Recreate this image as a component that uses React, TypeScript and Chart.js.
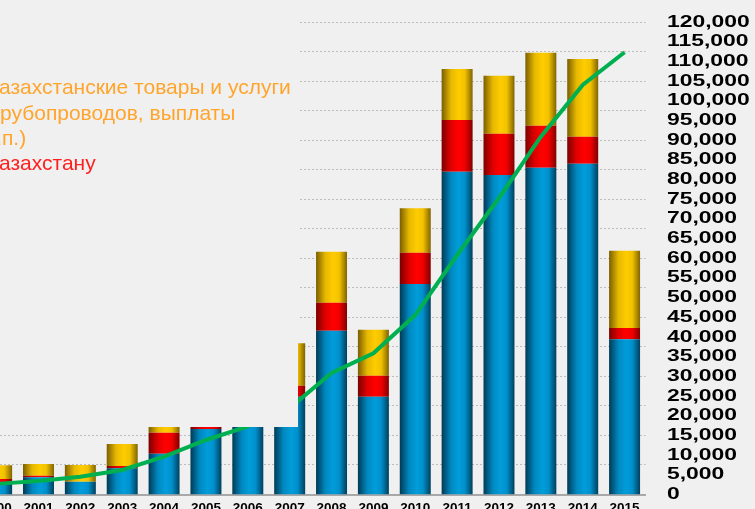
import { useEffect, useRef } from "react";
import { Chart, registerables } from "chart.js";

Chart.register(...registerables);

// ---- data ----
const years = ["2000", "2001", "2002", "2003", "2004", "2005", "2006", "2007", "2008", "2009", "2010", "2011", "2012", "2013", "2014", "2015"];
const blueSeries = [2850, 4370, 3250, 6660, 10370, 16650, 21000, 24860, 41630, 24860, 53500, 82030, 81200, 83050, 84070, 39440];
const redSeries = [1090, 410, 0, 580, 5330, 2000, 0, 2790, 7110, 5340, 7950, 13140, 10500, 10670, 6860, 2870];
const goldSeries = [3480, 2970, 4250, 5590, 2800, 500, 0, 10780, 12960, 11680, 11280, 12960, 14730, 18550, 19740, 19650];
const lineSeries = [2700, 3430, 4520, 6230, 9600, 13850, 17300, 22000, 30880, 35880, 45600, 60860, 75350, 90930, 104070, 112400];
const legendPrefixes = ["К", "т", "и т.", "К"];
const legendTexts = ["азахстанские товары и услуги", "рубопроводов, выплаты", "п.)", "азахстану"];

// ---- layout ----
const OFF = 40;
const W = 755 + OFF;
const H = 530;
const BG = "#F0F0F0";
const FONT = '"Liberation Sans", Arial, Helvetica, sans-serif';

const fmt = (v: number) => v.toLocaleString("en-US");

const makeGrad = (stops: string[]) => (c: any) => {
  const chart = c.chart;
  const xs = chart.scales && chart.scales.x;
  if (!xs || c.dataIndex === undefined || !chart.chartArea) return stops[2];
  const cx = xs.getPixelForValue(c.dataIndex);
  const w = (xs.width / years.length) * 0.74;
  const g = chart.ctx.createLinearGradient(cx - w / 2, 0, cx + w / 2, 0);
  const pos = [0, 0.3, 0.55, 0.75, 1];
  stops.forEach((s, i) => g.addColorStop(pos[i], s));
  return g;
};

const blueGrad = makeGrad(["#003A55", "#0088C0", "#009DDA", "#0090CC", "#003F5C"]);
const redGrad = makeGrad(["#7A0000", "#E00000", "#FF0000", "#F00000", "#800000"]);
const goldGrad = makeGrad(["#7A5E00", "#E6B800", "#FFCC00", "#F2C200", "#806400"]);

const overlayPlugin = {
  id: "overlay",
  afterDatasetsDraw(chart: any) {
    const ctx = chart.ctx;
    ctx.save();
    // legend box occluding the left part of the plot
    ctx.fillStyle = BG;
    ctx.fillRect(0, 0, OFF + 298, 427);
    ctx.font = "21px " + FONT;
    ctx.textBaseline = "alphabetic";
    const xs = [-1, 0, 2, -1];
    const ys = [94, 120, 145, 170];
    const colors = ["#FFA52C", "#FFA52C", "#FFA52C", "#FF1F1F"];
    legendTexts.forEach((t, i) => {
      ctx.fillStyle = colors[i];
      ctx.textAlign = "left";
      ctx.fillText(t, OFF + xs[i], ys[i]);
      ctx.textAlign = "right";
      ctx.fillText(legendPrefixes[i], OFF + xs[i], ys[i]);
    });
    ctx.restore();
  },
  afterDraw(chart: any) {
    const ctx = chart.ctx;
    const s = chart.scales.y;
    ctx.save();
    ctx.font = "bold 16px " + FONT;
    ctx.textBaseline = "middle";
    ctx.textAlign = "left";
    ctx.fillStyle = "#000";
    s.ticks.forEach((t: any) => {
      const y = s.getPixelForValue(t.value);
      ctx.save();
      ctx.translate(OFF + 667, y);
      ctx.scale(1.43, 1);
      ctx.fillText(fmt(t.value), 0, 0);
      ctx.restore();
    });
    ctx.restore();
  },
};

export default function App() {
  const ref = useRef<HTMLCanvasElement | null>(null);

  useEffect(() => {
    if (!ref.current) return;
    const chart = new Chart(ref.current, {
      type: "bar",
      data: {
        labels: years,
        datasets: [
          {
            type: "line",
            data: lineSeries,
            borderColor: "#00B050",
            borderWidth: 4,
            pointRadius: 0,
            tension: 0,
            fill: false,
            order: 0,
            stack: "line",
            yAxisID: "y",
          } as any,
          { data: blueSeries, backgroundColor: blueGrad, stack: "bars", order: 1, yAxisID: "y", barPercentage: 0.74, categoryPercentage: 1, borderWidth: 0 },
          { data: redSeries, backgroundColor: redGrad, stack: "bars", order: 1, yAxisID: "y", barPercentage: 0.74, categoryPercentage: 1, borderWidth: 0 },
          { data: goldSeries, backgroundColor: goldGrad, stack: "bars", order: 1, yAxisID: "y", barPercentage: 0.74, categoryPercentage: 1, borderWidth: 0 },
        ],
      },
      options: {
        animation: false,
        responsive: false,
        devicePixelRatio: 1,
        layout: { padding: { left: OFF - 24.3, top: 22.3, right: 0, bottom: 0 } },
        plugins: { legend: { display: false }, tooltip: { enabled: false } },
        scales: {
          x: {
            type: "category",
            stacked: true,
            grid: { display: false, drawTicks: false },
            border: { display: true, color: "#A8A8A8", width: 2 },
            ticks: {
              color: "#000",
              font: { family: FONT, weight: "bold", size: 13.5 },
              padding: 5.6,
              maxRotation: 0,
              autoSkip: false,
            },
            afterFit: (s: any) => {
              s.height = H - 494.5;
            },
          },
          y: {
            position: "right",
            stacked: true,
            min: 0,
            max: 120000,
            ticks: { stepSize: 5000, display: false },
            grid: { display: false },
            border: { display: false },
            afterFit: (s: any) => {
              s.width = W - (OFF + 645.5);
            },
          },
          g: {
            position: "left",
            min: 0,
            max: 16,
            ticks: { stepSize: 1, display: false },
            grid: { color: "#BDBDBD", lineWidth: 1, drawTicks: false },
            border: { display: false, dash: [2, 2] },
            afterFit: (s: any) => {
              s.width = 0;
            },
          },
        } as any,
      },
      plugins: [overlayPlugin],
    });
    return () => chart.destroy();
  }, []);

  return (
    <div style={{ position: "fixed", left: 0, top: 0, width: 755, height: 509, overflow: "hidden", background: BG }}>
      <canvas ref={ref} width={W} height={H} style={{ position: "absolute", left: -OFF, top: 0, display: "block" }} />
    </div>
  );
}
